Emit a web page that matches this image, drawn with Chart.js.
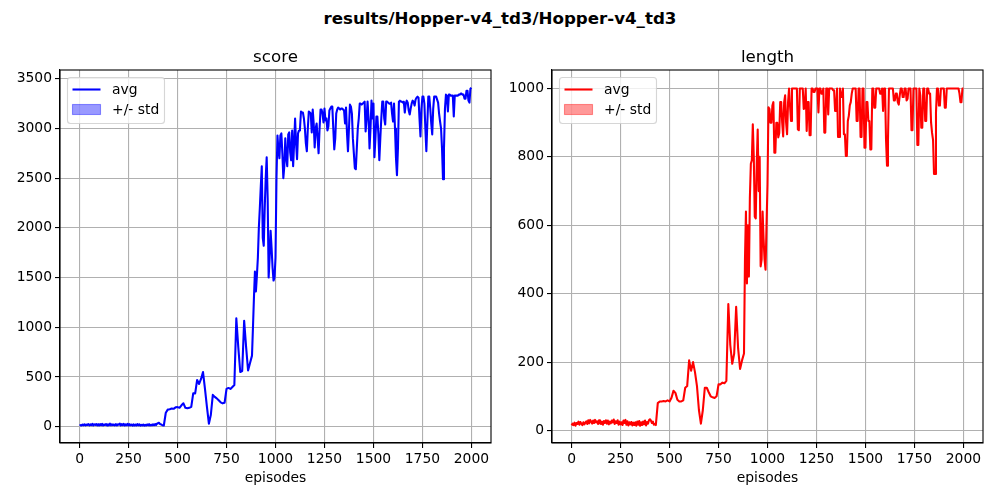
<!DOCTYPE html>
<html><head><meta charset="utf-8">
<script src="https://cdn.jsdelivr.net/npm/chart.js@4"></script>
<style>
html,body{margin:0;padding:0;background:#fff;width:1000px;height:500px;overflow:hidden}
#sup{position:absolute;left:0;top:9px;width:1000px;text-align:center;font:bold 16.67px "DejaVu Sans";line-height:20px;color:#000}
.w{position:absolute;top:0;width:500px;height:500px}
</style></head><body>
<div id="sup">results/Hopper-v4_td3/Hopper-v4_td3</div>
<div class="w" style="left:0"><canvas id="a" width="500" height="500"></canvas></div>
<div class="w" style="left:500px"><canvas id="b" width="500" height="500"></canvas></div>
<script>
const episodes=[0,5,10,15,20,25,30,35,40,45,50,55,60,65,70,75,80,85,90,95,100,105,110,115,120,125,130,135,140,145,150,155,160,165,170,175,180,185,190,195,200,205,210,215,220,225,230,235,240,245,250,255,260,265,270,275,280,285,290,295,300,305,310,315,320,325,330,335,340,345,350,355,360,365,370,375,380,385,390,395,400,405,410,415,420,425,430,
440,450,460,470,480,490,500,510,520,530,540,550,560,570,580,590,600,610,620,630,640,650,660,670,680,690,700,710,720,730,740,750,760,770,780,790,800,810,820,830,840,850,860,870,
880,885,890,895,900,905,910,915,920,925,930,935,940,945,950,955,960,965,970,975,980,985,990,995,
1000,1005,1010,1015,1020,1025,1030,1035,1040,1045,1050,1055,1060,1065,1070,1075,1080,1085,1090,1095,
1100,1105,1110,1115,1120,1125,1130,1135,1140,1145,1150,1155,1160,1165,1170,1175,1180,1185,1190,1195,
1200,1205,1210,1215,1220,1225,1230,1235,1240,1245,1250,1255,1260,1265,1270,1275,1280,1285,1290,1295,
1300,1305,1310,1315,1320,1325,1330,1335,1340,1345,1350,1355,1360,1365,1370,1375,1380,1385,1390,1395,
1400,1405,1410,1415,1420,1425,1430,1435,1440,1445,1450,1455,1460,1465,1470,1475,1480,1485,1490,1495,
1500,1505,1510,1515,1520,1525,1530,1535,1540,1545,1550,1555,1560,1565,1570,1575,1580,1585,1590,1595,
1600,1605,1610,1615,1620,1625,1630,1635,1640,1645,1650,1655,1660,1665,1670,1675,1680,1685,1690,1695,
1700,1705,1710,1715,1720,1725,1730,1735,1740,1745,1750,1755,1760,1765,1770,1775,1780,1785,1790,1795,
1800,1805,1810,1815,1820,1825,1830,1835,1840,1845,1850,1855,1860,1865,1870,1875,1880,1885,1890,1895,
1900,1905,1910,1915,1920,1925,1930,1935,1940,1945,1950,1955,1960,1965,1970,1975,1980,1985,1990,1995,2000];
const scoreAvg=[10,16,12,22,14,24,13,21,17,26,12,23,16,28,13,24,17,27,14,25,
12,26,15,29,13,22,17,27,12,25,15,30,14,24,16,22,13,26,12,24,
20,31,13,26,15,29,12,24,15,28,12,25,14,22,11,23,13,21,12,26,
14,24,10,19,13,22,11,18,12,23,14,25,12,20,13,24,15,26,16,30,
35,40,28,24,18,13,12,
140,172,175,182,180,195,197,190,215,235,190,185,190,200,335,335,
470,430,480,550,380,200,30,120,320,300,285,265,245,235,240,380,390,380,400,420,
1090,800,550,560,1065,800,565,640,
715,1000,1300,1560,1360,1520,1700,2000,2200,2420,2620,1900,1820,2200,2500,2710,2300,1500,1700,1970,1800,1600,1470,1500,
1700,2500,2930,2780,2700,2930,2950,2750,2500,2620,2900,2700,2620,2940,2960,2760,2680,2980,2620,2850,
3100,2850,2690,2950,2980,3000,3170,3160,3160,3100,3000,2850,2770,3000,3170,3160,3150,2960,3190,3050,
2810,3000,3050,2900,2750,3000,3190,3190,3150,3060,3200,3080,3100,2980,3020,3180,3200,3220,3220,3000,
2790,2900,3150,3190,3210,3200,3190,3200,3200,3190,3180,3050,3210,2950,2770,3000,3240,3220,3150,2900,
2750,2600,2590,2800,3000,3100,3250,3250,3240,3250,3260,3270,2970,3100,3270,3100,2800,3000,3280,3100,
3250,2710,2900,3120,3120,2950,2680,2900,3100,3270,3270,3100,3040,3270,3270,3260,3250,3250,3260,3150,
3070,3250,3000,2700,2530,2800,3270,3280,3270,3270,3260,3270,3160,3250,3280,3260,3180,3140,3200,3250,
3280,3270,3230,3290,3310,3320,3310,3100,2920,3200,3320,3320,3250,3000,2770,3050,3320,3320,3200,3050,
2940,3200,3320,3320,3320,3290,3260,3150,3070,3000,2800,2490,2800,3200,3340,3330,3170,3340,3340,3330,
3330,3330,3120,3330,3330,3330,3330,3340,3340,3350,3350,3340,3340,3300,3300,3380,3380,3280,3260,3400,3410];
const lengthAvg=[15,20,16,23,14,22,19,26,17,25,20,16,24,18,23,27,19,30,21,31,
26,20,29,22,31,24,27,19,30,21,19,26,17,28,22,30,20,29,18,26,
21,29,24,32,19,27,22,30,17,26,18,24,16,29,22,31,17,27,15,24,
18,25,15,23,16,24,14,26,17,28,14,24,16,26,18,29,15,25,20,30,
33,29,22,26,17,19,16,
80,85,85,86,85,88,85,96,116,110,90,85,85,88,125,130,
205,175,200,170,130,60,20,60,125,125,112,100,97,95,100,135,135,140,138,145,
370,250,195,225,362,240,180,205,
225,500,640,430,600,450,680,780,790,895,800,625,620,780,880,700,800,480,500,640,560,500,470,600,
720,945,940,900,900,950,960,812,812,900,900,857,870,960,960,900,860,960,980,900,
866,960,1000,950,905,1000,1000,1000,1000,1000,1000,880,878,1000,1000,1000,1000,940,945,1000,
876,960,960,863,863,1000,1000,990,990,1000,1000,1000,930,1000,1000,985,985,1000,871,871,
1000,1000,924,1000,1000,1000,1000,995,995,934,934,1000,858,858,1000,975,975,1000,866,866,
803,803,905,920,950,960,985,1000,1000,1000,1000,905,905,1000,1000,858,858,1000,1000,827,
827,960,960,905,905,822,822,1000,1000,944,944,1000,1000,1000,1000,985,985,1000,934,1000,
1000,850,774,850,1000,1000,1000,1000,1000,965,965,985,985,960,953,980,1000,1000,975,975,
1000,1000,965,970,1000,1000,1000,878,878,1000,1000,1000,1000,835,835,1000,980,885,885,1000,
1000,905,905,1000,1000,985,985,900,870,850,750,750,930,1000,1000,950,950,1000,1000,1000,
1000,944,944,1000,1000,1000,1000,1000,1000,1000,1000,1000,1000,1000,1000,1000,985,960,960,1000,1000];
const xTicks=[0,250,500,750,1000,1250,1500,1750,2000];
const scoreTicks=[0,500,1000,1500,2000,2500,3000,3500];
const lengthTicks=[0,200,400,600,800,1000];
const legendLabels=["avg","+/- std"];
const FONT='"DejaVu Sans"';
const plotFrame={id:'plotFrame',afterDatasetsDraw(c,_,o){
  const {ctx,chartArea:a}=c;
  ctx.save();ctx.lineWidth=1.1;ctx.strokeStyle='#000';
  ctx.strokeRect(a.left,a.top,a.right-a.left,a.bottom-a.top);
  const x=a.left+7.5,y=a.top+7.5,w=97,h=46;
  ctx.beginPath();ctx.roundRect(x,y,w,h,3);
  ctx.fillStyle='rgba(255,255,255,0.8)';ctx.fill();
  ctx.lineWidth=1.1;ctx.strokeStyle='rgba(204,204,204,0.8)';ctx.stroke();
  ctx.strokeStyle=o.color;ctx.lineWidth=2.08;
  ctx.beginPath();ctx.moveTo(x+5,y+12);ctx.lineTo(x+33,y+12);ctx.stroke();
  ctx.fillStyle=o.fill;ctx.strokeStyle=o.fill;ctx.lineWidth=1.1;
  ctx.fillRect(x+5,y+27,28,10);ctx.strokeRect(x+5,y+27,28,10);
  ctx.fillStyle='#000';ctx.font='13.89px '+FONT;ctx.textBaseline='middle';ctx.textAlign='left';
  ctx.fillText(legendLabels[0],x+44.5,y+13);ctx.fillText(legendLabels[1],x+44.5,y+33);
  ctx.restore();
}};
function make(id,title,vals,yTicks,ymin,ymax,color,fill,padR){
  new Chart(document.getElementById(id),{type:'line',plugins:[plotFrame],
   data:{datasets:[{label:legendLabels[0],data:episodes.map((x,i)=>({x,y:vals[i]})),borderColor:color,borderWidth:2.08,pointRadius:0,tension:0,fill:false,borderJoinStyle:'round'}]},
   options:{responsive:false,animation:false,devicePixelRatio:1,
    layout:{padding:{left:0,right:padR,top:0,bottom:0}},
    plugins:{legend:{display:false},tooltip:{enabled:false},
      title:{display:true,text:title,fullSize:false,color:'#000',font:{family:FONT,size:16.67,weight:'normal',lineHeight:1.2},padding:{top:48,bottom:2}},
      plotFrame:{color,fill}},
    scales:{
     x:{type:'linear',min:-100,max:2100,
       afterBuildTicks(s){s.ticks=xTicks.map(v=>({value:v}))},
       afterFit(s){s.height=57},
       grid:{color:'#b0b0b0',lineWidth:1.1,tickLength:5,tickColor:'#000',drawTicks:true},
       border:{color:'#000',width:1.1},
       ticks:{color:'#000',font:{family:FONT,size:13.89},padding:3,maxRotation:0,autoSkip:false,callback:v=>String(v)},
       title:{display:true,text:'episodes',color:'#000',font:{family:FONT,size:13.89},padding:{top:2,bottom:13}}},
     y:{type:'linear',min:ymin,max:ymax,
       afterBuildTicks(s){s.ticks=yTicks.map(v=>({value:v}))},
       afterFit(s){s.width=id==='a'?60:52},
       grid:{color:'#b0b0b0',lineWidth:1.1,tickLength:5,tickColor:'#000'},
       border:{color:'#000',width:1.1},
       ticks:{color:'#000',font:{family:FONT,size:13.89},padding:3,autoSkip:false,callback:v=>String(v)}}
    }}});
}
make('a','score',scoreAvg,scoreTicks,-164,3588,'#0000ff','rgba(0,0,255,0.4)',9);
make('b','length',lengthAvg,lengthTicks,-36.5,1054,'#ff0000','rgba(255,0,0,0.4)',17);
</script>
</body></html>
